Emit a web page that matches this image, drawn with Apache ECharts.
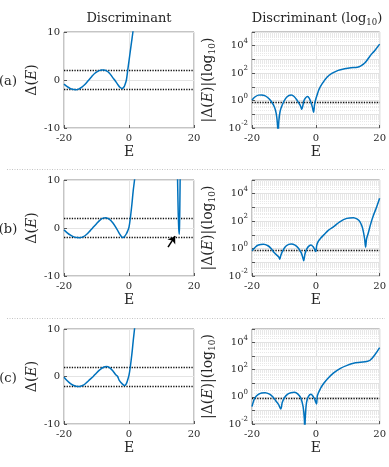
<!DOCTYPE html>
<html><head><meta charset="utf-8">
<script src="https://cdn.jsdelivr.net/npm/echarts@6/dist/echarts.min.js"></script>
<style>html,body{margin:0;padding:0;background:#fff}#c{width:389px;height:467px}</style>
</head><body><div id="c"></div>
<script>
// ---------- data ----------
// Row (a) – linear discriminant
const aLinE = [-20,-19,-18,-17,-16.3,-15.5,-14.5,-13.5,-12.5,-11.5,-10.5,-9.5,-8.5,-7.8,-7,-6,-5,-4.4,-3.5,-2.8,-2.1,-1.5,-1.2,-0.8,-0.4,0,0.4,0.8,1.2,1.6];
const aLinD = [-0.85,-1.4,-1.8,-2.0,-2.02,-1.9,-1.5,-0.9,-0.1,0.7,1.4,1.85,2.08,2.1,1.95,1.4,0.5,0,-0.9,-1.5,-1.75,-1.4,-0.9,0,2.0,4.0,6.0,8.0,10.0,12.5];
// Row (a) – |Δ| on log scale
const aLogE = [-20,-19,-18,-17,-16,-15,-14,-13,-12.4,-12.0,-11.85,-11.6,-11.2,-10.5,-9.5,-8.5,-7.7,-6.8,-5.8,-5.0,-4.7,-4.4,-4.1,-3.7,-3.3,-2.6,-2.0,-1.5,-1.1,-0.7,-0.4,0,0.5,1.0,2.0,3.5,5.0,7.0,9.0,11.0,13.0,14.0,15.5,17.0,18.5,20];
const aLogV = [1.1,1.9,2.5,2.6,2.3,1.6,0.9,0.35,0.11,0.016,0.002,0.03,0.16,0.5,1.4,2.3,2.6,2.0,1.0,0.5,0.35,0.23,0.4,1.0,1.5,1.95,1.4,0.7,0.35,0.14,0.5,1.3,3.0,6.5,17,50,95,160,210,250,270,320,600,1800,4500,13000];

// Row (b)
const bLinE = [-20,-19,-18,-17,-16,-15.1,-14,-13,-12,-11.2,-10,-9,-8,-7.1,-6,-5,-4,-3,-2.3,-1.8,-1.3,-0.8,-0.4,0,0.4,0.9,1.3,1.7,2.1];
const bLinD = [-0.4,-1.0,-1.5,-1.85,-2.0,-2.02,-1.8,-1.3,-0.6,0,0.9,1.6,2.05,2.15,1.8,1.1,0.1,-1.1,-1.8,-2.0,-1.7,-1.2,-0.6,0.2,2.0,5.0,7.8,10,13];
const bSpikeE = [14.85,15.0,15.15,15.3,15.45,15.55,15.65,15.78];
const bSpikeD = [14,8,3,0,-1.3,0.5,5,13];
const bLogE = [-20,-19,-18,-16.4,-15,-14,-13,-12,-11.6,-11.3,-11.0,-10.5,-9.5,-8.5,-7.7,-6.5,-5.5,-4.6,-4.2,-3.8,-3.4,-2.8,-2.0,-1.5,-0.9,-0.4,0,0.3,0.8,1.5,2.5,4,5.6,7.5,9.7,11.8,13,13.8,14.5,14.9,15.3,15.6,15.9,16.4,17.2,17.9,19,20];
const bLogV = [0.7,1.26,1.8,2.05,1.6,1.0,0.5,0.3,0.24,0.17,0.3,0.6,1.4,2.0,2.2,1.8,1.1,0.5,0.28,0.13,0.4,1.0,1.66,1.8,1.4,0.9,0.6,1.8,3.5,5.6,10,22,40,90,160,180,140,93,40,17,5,1.26,5,12.6,63,210,1000,4700];

// Row (c)
const cLinE = [-20,-19,-18,-17,-16,-15.1,-14,-13,-12,-11,-10,-9,-8,-6.9,-6,-5,-4,-3.5,-3,-2,-1.3,-0.8,-0.4,0,0.4,0.9,1.3,1.7,2.1];
const cLinD = [-0.15,-0.9,-1.5,-1.9,-2.08,-2.1,-1.8,-1.25,-0.6,0,0.75,1.4,1.9,2.1,1.85,1.2,0.3,0,-0.8,-1.6,-1.9,-1.5,-0.7,0.3,2.0,4.8,7.5,10,13];
const cLogE = [-20,-19.5,-19,-18,-17,-15.9,-14.5,-13.5,-12.5,-11.7,-11.0,-10.5,-9.8,-8.8,-7.8,-6.7,-5.6,-4.7,-4.0,-3.6,-3.45,-3.3,-2.9,-2.3,-1.5,-0.9,-0.3,0.2,0.5,1.5,2.5,3.6,5.5,7.7,9.8,11.8,14,15.9,17,18.5,20];
const cLogV = [0.19,0.5,0.9,1.5,1.9,2.05,1.6,1.0,0.5,0.28,0.13,0.4,0.9,1.6,2.0,2.15,1.6,0.8,0.2,0.025,0.002,0.03,0.4,1.1,1.55,1.1,0.63,0.3,1.26,4.3,10,21,56,126,210,300,355,400,500,1260,4300];

// reference levels and annotation
const bandLevels = [2, -2];
const logLevel = [0.8];
const arrowFrom = [12.0, -4.0];
const arrowTo = [14.2, -1.7];
const panelLabels = ['(a)', '(b)', '(c)'];
const xTicks = [-20, 0, 20];
const linYTicks = [-10, 0, 10];
const logRange = [0.01, 1e5];

// ---------- chart ----------
const FONT = 'DejaVu Serif';
const BLUE = '#0072BD';
const rows = [{top: 32, h: 96}, {top: 180, h: 96}, {top: 329, h: 95}];
const zip = (x, y) => x.map((v, i) => [v, y[i]]);

const linSets = [zip(aLinE, aLinD), zip(bLinE, bLinD), zip(cLinE, cLinD)];
const logSets = [zip(aLogE, aLogV), zip(bLogE, bLogV), zip(cLogE, cLogV)];

const grid = [], xAxis = [], yAxis = [], series = [];
const minorVals = [];
for (let k = Math.round(Math.log10(logRange[0])); k < Math.round(Math.log10(logRange[1])); k++) {
  for (let m = 2; m <= 9; m++) minorVals.push(m * Math.pow(10, k));
}

const tickLabel = {fontFamily: FONT, fontSize: 10, color: '#262626'};
const nameRich = {
  n: {fontFamily: FONT, fontSize: 14, color: '#262626', lineHeight: 18, verticalAlign: 'middle'},
  i: {fontFamily: FONT, fontSize: 14, fontStyle: 'italic', color: '#262626', lineHeight: 18, verticalAlign: 'middle'},
  s: {fontFamily: FONT, fontSize: 9, color: '#262626', lineHeight: 9, verticalAlign: 'bottom'}
};
const tickStyle = {show: true, inside: true, length: 3, lineStyle: {color: '#555'}};

rows.forEach((r, ri) => {
  const gL = ri * 2, gR = ri * 2 + 1;
  grid.push({left: 64, top: r.top, width: 130, height: r.h, show: true, borderColor: '#8a8a8a', borderWidth: 1, backgroundColor: 'transparent'});
  grid.push({left: 252, top: r.top, width: 130, height: r.h, show: true, borderColor: '#8a8a8a', borderWidth: 1, backgroundColor: 'transparent'});
  [gL, gR].forEach(g => {
    xAxis.push({
      type: 'value', gridIndex: g, min: xTicks[0], max: xTicks[2], interval: xTicks[1] - xTicks[0],
      position: 'bottom',
      axisLine: {show: false, onZero: false},
      axisTick: tickStyle,
      axisLabel: Object.assign({margin: 5}, tickLabel),
      splitLine: {show: true, lineStyle: {color: '#e4e4e4', width: 1}},
      name: 'E', nameLocation: 'middle', nameGap: 17,
      nameTextStyle: {fontFamily: FONT, fontSize: 14, color: '#262626'}
    });
  });
  yAxis.push({
    type: 'value', gridIndex: gL, min: linYTicks[0], max: linYTicks[2], interval: linYTicks[1] - linYTicks[0],
    position: 'left',
    axisLine: {show: false, onZero: false},
    axisTick: tickStyle,
    axisLabel: Object.assign({margin: 4}, tickLabel),
    splitLine: {show: true, lineStyle: {color: '#e4e4e4', width: 1}},
    name: '{n|Δ(}{i|E}{n|)}', nameLocation: 'middle', nameGap: 23, nameRotate: 90,
    nameTextStyle: {rich: nameRich}
  });
  yAxis.push({
    type: 'log', logBase: 10, gridIndex: gR, min: logRange[0], max: logRange[1],
    position: 'left',
    axisLine: {show: false, onZero: false},
    axisTick: tickStyle,
    axisLabel: {
      margin: 4,
      formatter: v => { const k = Math.round(Math.log10(v)); return k % 2 === 0 ? '{b|10}{p|' + k + '}' : ''; },
      rich: {
        b: {fontFamily: FONT, fontSize: 10, color: '#262626', lineHeight: 16, verticalAlign: 'middle'},
        p: {fontFamily: FONT, fontSize: 7, color: '#262626', lineHeight: 8, verticalAlign: 'top'}
      }
    },
    splitLine: {show: true, lineStyle: {color: '#e2e2e2', width: 1}},
    name: '{n|\u007CΔ(}{i|E}{n|)\u007C(log}{s|10}{n|)}', nameLocation: 'middle', nameGap: 35, nameRotate: 90,
    nameTextStyle: {rich: nameRich}
  });

  // minor grid (log panel), kept underneath the curves
  series.push({
    type: 'line', xAxisIndex: gR, yAxisIndex: gR, data: [], silent: true, z: 0,
    markLine: {silent: true, symbol: 'none', animation: false, label: {show: false}, z: 0,
      lineStyle: {type: [1, 1], color: '#e8e8e8', width: 1},
      data: minorVals.map(v => ({yAxis: v}))}
  });

  // linear panel curve
  series.push({
    type: 'line', xAxisIndex: gL, yAxisIndex: gL, data: linSets[ri], smooth: 0.35,
    showSymbol: false, clip: true, animation: false, z: 6,
    lineStyle: {color: BLUE, width: 1.5},
    markLine: {silent: true, symbol: 'none', animation: false, label: {show: false}, z: 4,
      lineStyle: {type: [1.3, 1.3], color: '#111', width: 1.4},
      data: bandLevels.map(v => ({yAxis: v}))}
  });
  // log panel curve
  series.push({
    type: 'line', xAxisIndex: gR, yAxisIndex: gR, data: logSets[ri], smooth: 0.35,
    showSymbol: false, clip: true, animation: false, z: 6,
    lineStyle: {color: BLUE, width: 1.5},
    markLine: {silent: true, symbol: 'none', animation: false, label: {show: false}, z: 4,
      lineStyle: {type: [1.3, 1.3], color: '#111', width: 1.4},
      data: logLevel.map(v => ({yAxis: v}))}
  });
});

// (b) narrow spike + arrow
series.push({
  type: 'line', xAxisIndex: 2, yAxisIndex: 2, data: zip(bSpikeE, bSpikeD), smooth: 0.3,
  showSymbol: false, clip: true, animation: false, z: 6,
  lineStyle: {color: BLUE, width: 1.5}
});
series.push({
  type: 'line', xAxisIndex: 2, yAxisIndex: 2, data: [], animation: false, z: 7,
  markLine: {silent: true, animation: false, symbol: ['none', 'arrow'], symbolSize: 7, label: {show: false}, z: 7,
    lineStyle: {type: 'solid', color: '#000', width: 1.5},
    data: [[{coord: arrowFrom}, {coord: arrowTo}]]}
});

const graphic = [
  {type: 'text', x: 129, y: 19, style: {text: 'Discriminant', font: '13px "DejaVu Serif"', fill: '#262626', textAlign: 'center', textVerticalAlign: 'middle'}},
  {type: 'text', x: 317, y: 19, style: {
    text: '{n|Discriminant (log}{s|10}{n|)}', textAlign: 'center', textVerticalAlign: 'middle',
    rich: {
      n: {fontFamily: FONT, fontSize: 13, fill: '#262626', lineHeight: 17, verticalAlign: 'middle'},
      s: {fontFamily: FONT, fontSize: 8.5, fill: '#262626', lineHeight: 9, verticalAlign: 'bottom'}
    }}},
  {type: 'line', shape: {x1: 7, y1: 169.5, x2: 385, y2: 169.5}, style: {stroke: '#c4c4c4', lineWidth: 1, lineDash: [1, 1.5]}},
  {type: 'line', shape: {x1: 7, y1: 318.5, x2: 385, y2: 318.5}, style: {stroke: '#c4c4c4', lineWidth: 1, lineDash: [1, 1.5]}}
];
rows.forEach((r, ri) => {
  graphic.push({type: 'text', x: 8, y: r.top + r.h / 2 + 2, style: {text: panelLabels[ri], font: '13px "DejaVu Serif"', fill: '#262626', textAlign: 'center', textVerticalAlign: 'middle'}});
});

const chart = echarts.init(document.getElementById('c'), null, {renderer: 'canvas'});
chart.setOption({animation: false, grid, xAxis, yAxis, series, graphic});
</script></body></html>
